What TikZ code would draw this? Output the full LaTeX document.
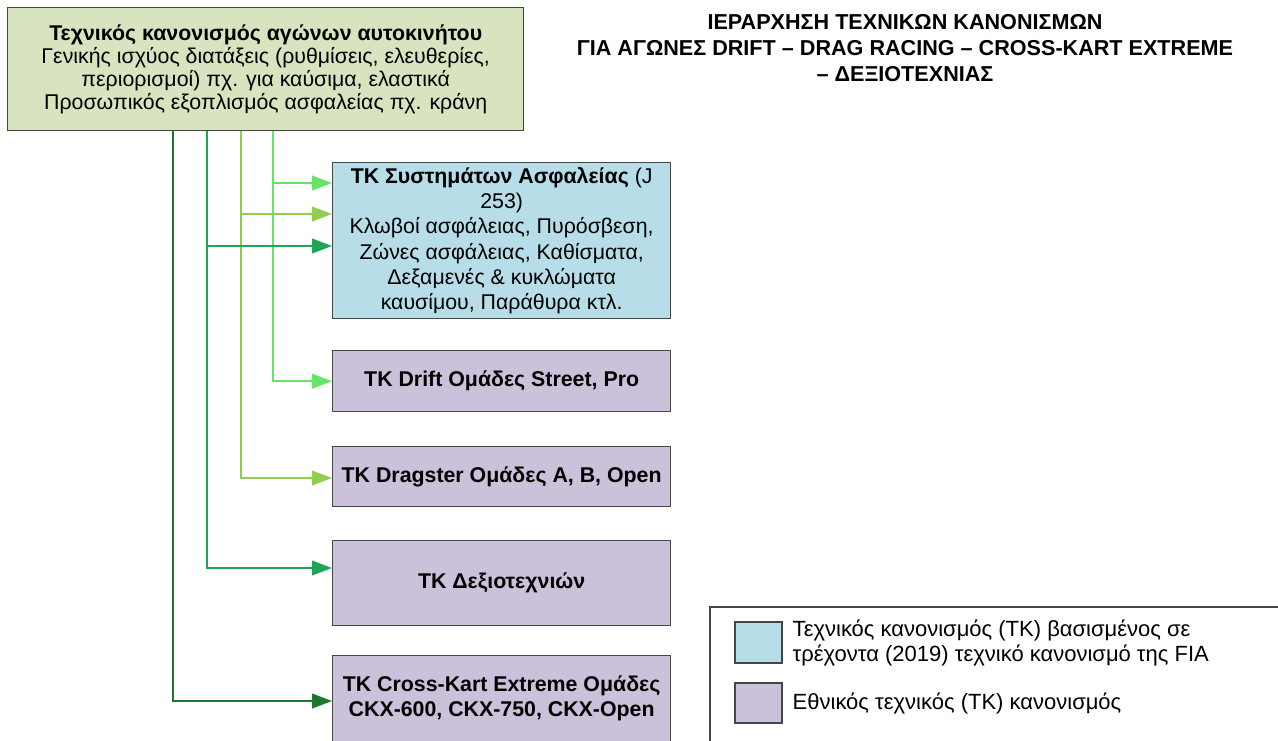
\documentclass[tikz,border=0pt]{standalone}
\usepackage{fontspec}
\setmainfont{Liberation Sans}
\usetikzlibrary{arrows.meta,calc}
\definecolor{topfill}{RGB}{216,227,191}
\definecolor{fiafill}{RGB}{183,221,232}
\definecolor{natfill}{RGB}{204,193,218}
\definecolor{edgegray}{RGB}{70,70,70}
\definecolor{greenA}{RGB}{28,120,42}
\definecolor{greenB}{RGB}{30,165,85}
\definecolor{greenC}{RGB}{146,204,80}
\definecolor{greenD}{RGB}{102,228,102}

\begin{document}
\begin{tikzpicture}[x=0.75pt,y=-0.75pt,font=\fontsize{16}{17.25}\selectfont,
    box/.style={draw=edgegray,line width=1pt,anchor=north west,align=center,inner sep=0pt,minimum width=253.5pt},
    feed/.style={line width=1.4pt,-{Triangle[length=15pt,width=11pt]}},
    swatch/.style={draw=edgegray,line width=1pt}]
      \useasboundingbox (0,0) rectangle (1278,740);
      % boxes
      \node[box,fill=topfill,minimum width=387pt,minimum height=92.25pt] (top) at (7,7)
        {\textbf{Τεχνικός κανονισμός αγώνων αυτοκινήτου}\\Γενικής ισχύος διατάξεις (ρυθμίσεις, ελευθερίες,\\περιορισμοί) πχ. για καύσιμα, ελαστικά\\Προσωπικός εξοπλισμός ασφαλείας πχ. κράνη};
      \node[box,fill=fiafill,minimum height=117pt,font=\fontsize{16}{19}\selectfont] (fia) at (332,162)
        {\textbf{ΤΚ Συστημάτων Ασφαλείας} (J\\253)\\Κλωβοί ασφάλειας, Πυρόσβεση,\\Ζώνες ασφάλειας, Καθίσματα,\\Δεξαμενές \& κυκλώματα\\καυσίμου, Παράθυρα κτλ.};
      \node[box,fill=natfill,minimum height=45.75pt] (drift) at (332,350) {\textbf{ΤΚ Drift Ομάδες Street, Pro}};
      \node[box,fill=natfill,minimum height=45pt] (drag) at (332,446) {\textbf{ΤΚ Dragster Ομάδες A, B, Open}};
      \node[box,fill=natfill,minimum height=63.75pt] (dexio) at (332,540) {\textbf{ΤΚ Δεξιοτεχνιών}};
      \node[box,fill=natfill,minimum height=64.5pt,font=\fontsize{16}{19}\selectfont] (ck) at (332,655) {\textbf{ΤΚ Cross-Kart Extreme Ομάδες}\\\textbf{CKX-600, CKX-750, CKX-Open}};
      % title
      \node[align=center,font=\fontsize{16.2}{19.2}\bfseries] (title) at (905,48)
        {ΙΕΡΑΡΧΗΣΗ ΤΕΧΝΙΚΩΝ ΚΑΝΟΝΙΣΜΩΝ\\ΓΙΑ ΑΓΩΝΕΣ DRIFT – DRAG RACING – CROSS-KART EXTREME\\– ΔΕΞΙΟΤΕΧΝΙΑΣ};
      % feeds
      \coordinate (s1) at ($(top.south west)+(166,0)$);
      \coordinate (s2) at ($(top.south west)+(200,0)$);
      \coordinate (s3) at ($(top.south west)+(234,0)$);
      \coordinate (s4) at ($(top.south west)+(266,0)$);
      \coordinate (f2) at ($(fia.north west)+(0,84)$);
      \coordinate (f3) at ($(fia.north west)+(0,52)$);
      \coordinate (f4) at ($(fia.north west)+(0,21)$);
      \draw[feed,greenA] (s1) |- ($(ck.north west)+(0,46)$);
      \draw[feed,greenB] (s2) |- ($(dexio.north west)+(0,28)$);
      \draw[feed,greenC] (s3) |- ($(drag.north west)+(0,32)$);
      \draw[feed,greenD] (s4) |- (drift.west);
      \draw[feed,greenB] (s2 |- f2) to (f2);
      \draw[feed,greenC] (s3 |- f3) to (f3);
      \draw[feed,greenD] (s4 |- f4) to (f4);
      % legend
      \draw[edgegray,line width=1pt] (710,607) rectangle (1300,760);
      \draw[swatch,fill=fiafill] (735,622) rectangle (782,663);
      \draw[swatch,fill=natfill] (735,683) rectangle (782,723);
      \node[anchor=west,align=left,font=\fontsize{16.5}{19}\selectfont] (legfia) at (788,643) {Τεχνικός κανονισμός (ΤΚ) βασισμένος σε\\τρέχοντα (2019) τεχνικό κανονισμό της FIA};
      \node[anchor=west,font=\fontsize{16.5}{19}\selectfont] (legnat) at (788,703) {Εθνικός τεχνικός (ΤΚ) κανονισμός};
    \end{tikzpicture}
\end{document}
